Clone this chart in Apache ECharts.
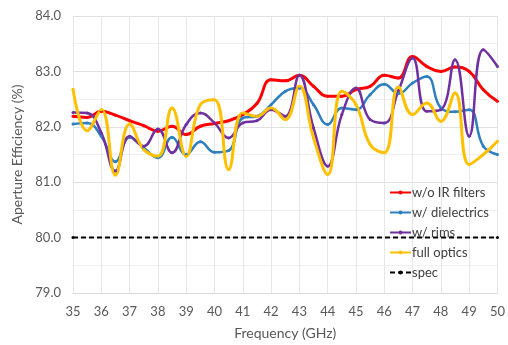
<!DOCTYPE html>
<html><head><meta charset="utf-8">
<script src="https://cdn.jsdelivr.net/npm/echarts@6/dist/echarts.min.js"></script>
<style>html,body{margin:0;padding:0;background:#fff}#c{width:508px;height:345px}</style>
</head><body><div id="c"></div>
<script>
const freqs = [35,35.5,36,36.5,37,37.5,38,38.5,39,39.5,40,40.5,41,41.5,42,42.5,43,43.5,44,44.5,45,45.5,46,46.5,47,47.5,48,48.5,49,49.5,50];
const woIR = [82.19,82.17,82.28,82.21,82.11,82.02,81.92,82.01,81.86,82.01,82.06,82.11,82.22,82.42,82.85,82.83,82.93,82.73,82.55,82.55,82.67,82.73,82.93,82.88,83.27,83.09,83.0,83.08,83.0,82.67,82.46];
const dielectrics = [82.05,82.07,81.83,81.37,81.81,81.62,81.44,81.81,81.5,81.73,81.54,81.57,82.16,82.19,82.4,82.64,82.7,82.4,82.04,82.34,82.31,82.58,82.77,82.6,82.79,82.91,82.34,82.27,82.31,81.65,81.5];
const rims = [82.26,82.25,81.89,81.2,81.83,81.65,81.96,81.53,82.04,82.25,82.07,81.8,82.07,82.11,82.31,82.19,82.93,81.98,81.29,82.22,82.7,82.13,82.07,82.65,83.24,82.28,82.31,83.21,81.83,83.39,83.09];
const fullOptics = [82.68,81.93,82.31,81.13,82.05,81.59,81.47,82.34,81.47,82.4,82.49,81.23,82.25,82.19,82.34,82.13,82.73,81.8,81.14,82.64,82.4,81.68,81.53,82.72,82.22,82.43,82.1,82.61,81.32,81.5,81.74];
const specFreqs = [35,50];
const specVals = [80,80];
const yTicks = [79,80,81,82,83,84];

const pair = (xs, ys) => xs.map((x,i)=>[x,ys[i]]);
const font = 'Lato, "Open Sans", sans-serif';
function line(name, ys, color, width, xs){
  return {name, type:'line', data:pair(xs||freqs, ys), smooth:0.45, symbol:'circle', symbolSize:3,
    lineStyle:{color, width}, itemStyle:{color}};
}
const chart = echarts.init(document.getElementById('c'));
chart.setOption({
  animation:false,
  grid:{left:73, right:5, top:16, bottom:51},
  legend:{orient:'vertical', left:384, top:181, itemWidth:21, itemHeight:5, itemGap:7,
    textStyle:{fontFamily:font, fontSize:13, lineHeight:13, color:'#404040', padding:[0,0,0,-4]},
    data:['w/o IR filters','w/ dielectrics','w/ rims','full optics','spec']},
  xAxis:{type:'value', min:35, max:50, interval:1,
    name:'Frequency (GHz)', nameLocation:'middle', nameGap:33,
    nameTextStyle:{fontFamily:font, fontSize:14, color:'#595959'},
    axisLine:{show:true, lineStyle:{color:'#d9d9d9'}}, axisTick:{show:false},
    axisLabel:{fontFamily:font, fontSize:13, color:'#595959', margin:12},
    splitLine:{show:true, lineStyle:{color:'#e6e6e6'}}},
  yAxis:{type:'value', min:79, max:84, interval:1,
    name:'Aperture Efficiency (%)', nameLocation:'middle', nameGap:41,
    nameTextStyle:{fontFamily:font, fontSize:14, color:'#595959'},
    axisLine:{show:false}, axisTick:{show:false},
    axisLabel:{fontFamily:font, fontSize:13, color:'#595959', margin:12, formatter:v=>v.toFixed(1)},
    splitLine:{show:true, lineStyle:{color:'#e0e0e0'}},
    minorTick:{show:false, splitNumber:2},
    minorSplitLine:{show:true, lineStyle:{color:'#f0f0f0'}}},
  series:[
    line('w/o IR filters', woIR, '#ff0000', 3),
    line('w/ dielectrics', dielectrics, '#2e7fc0', 2.5),
    line('w/ rims', rims, '#7030a0', 2.5),
    line('full optics', fullOptics, '#ffc000', 3),
    {name:'spec', type:'line', data:pair(specFreqs, specVals), symbol:'circle', symbolSize:3,
      lineStyle:{color:'#000', width:2, type:[5,3]}, itemStyle:{color:'#000'}}
  ]
});
</script></body></html>
